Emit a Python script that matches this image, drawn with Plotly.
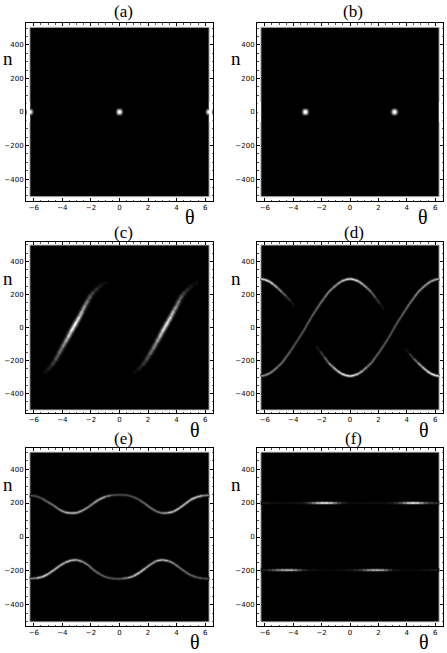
import plotly.graph_objects as go

W, H = 447, 653
THETA_TICKS = [-6, -4, -2, 0, 2, 4, 6]
THETA_LABELS = ["−6", "−4", "−2", "0", "2", "4", "6"]
N_TICKS = [-400, -200, 0, 200, 400]
N_LABELS = ["−400", "−200", "0", "200", "400"]
TITLES = ["(a)", "(b)", "(c)", "(d)", "(e)", "(f)"]

# ---- ridges: (theta, n, brightness) ----
a_spot_theta = [-6.28, 0, 6.28]
a_spot_n = [0, 0, 0]
b_spot_theta = [-3.14, 3.14]
b_spot_n = [0, 0]

c1_theta = [-5.25, -5.0, -4.75, -4.5, -4.25, -4.0, -3.8, -3.6, -3.4, -3.2, -3.0, -2.8, -2.6, -2.4, -2.2, -2.0, -1.8, -1.5, -1.2, -0.9]
c1_n = [-275, -255, -230, -200, -160, -120, -90, -60, -25, 5, 35, 65, 100, 135, 165, 195, 215, 240, 260, 275]
c1_b = [.04, .1, .18, .28, .38, .48, .6, .72, .88, 1.0, .95, .8, .65, .55, .42, .3, .22, .14, .08, .03]
c2_theta = [1.0, 1.3, 1.6, 1.85, 2.1, 2.35, 2.6, 2.8, 3.0, 3.2, 3.4, 3.6, 3.8, 4.0, 4.2, 4.4, 4.6, 4.85, 5.1, 5.5]
c2_n = [-275, -255, -230, -200, -165, -130, -90, -60, -25, 5, 35, 65, 100, 130, 165, 195, 215, 235, 255, 278]
c2_b = [.03, .08, .16, .26, .36, .46, .56, .68, .8, .92, .88, .78, .65, .55, .42, .3, .2, .13, .08, .03]

d1_theta = [-6.28, -6.0, -5.7, -5.4, -5.1, -4.8, -4.5, -4.2, -3.9]
d1_n = [295, 290, 280, 262, 240, 215, 190, 160, 130]
d1_b = [.75, .85, .85, .75, .6, .45, .3, .14, .03]
d2_theta = [-6.28, -6.0, -5.7, -5.4, -5.1, -4.8, -4.5, -4.2, -3.9, -3.6, -3.3, -3.0, -2.7, -2.4, -2.1, -1.8, -1.5, -1.2, -0.9, -0.6, -0.3, 0, 0.3, 0.6, 0.9, 1.2, 1.5, 1.8, 2.1, 2.4]
d2_n = [-295, -290, -280, -262, -240, -215, -180, -145, -105, -65, -25, 20, 65, 105, 145, 180, 215, 240, 262, 280, 290, 295, 290, 280, 262, 240, 215, 180, 145, 110]
d2_b = [.55, .55, .55, .5, .45, .42, .4, .35, .32, .32, .34, .35, .36, .38, .42, .45, .5, .55, .6, .68, .8, .85, .85, .8, .68, .55, .42, .28, .14, .03]
d3_theta = [-2.4, -2.1, -1.8, -1.5, -1.2, -0.9, -0.6, -0.3, 0, 0.3, 0.6, 0.9, 1.2, 1.5, 1.8, 2.1, 2.4, 2.7, 3.0, 3.3, 3.6, 3.9, 4.2, 4.5, 4.8, 5.1, 5.4, 5.7, 6.0, 6.28]
d3_n = [-110, -145, -180, -215, -240, -262, -280, -290, -295, -290, -280, -262, -240, -215, -180, -145, -105, -65, -20, 25, 65, 105, 145, 180, 215, 240, 262, 280, 290, 295]
d3_b = [.03, .14, .3, .48, .65, .75, .85, .9, .9, .85, .75, .62, .5, .42, .38, .35, .34, .32, .32, .34, .36, .38, .42, .46, .5, .55, .6, .65, .65, .65]
d4_theta = [3.9, 4.2, 4.5, 4.8, 5.1, 5.4, 5.7, 6.0, 6.28]
d4_n = [-130, -160, -190, -215, -240, -262, -280, -290, -295]
d4_b = [.03, .14, .32, .52, .7, .8, .9, .92, .85]

e1_theta = [-6.28, -5.8, -5.4, -5.0, -4.6, -4.2, -3.8, -3.4, -3.0, -2.6, -2.2, -1.8, -1.4, -1.0, -0.6, -0.2, 0.2, 0.6, 1.0, 1.4, 1.8, 2.2, 2.6, 3.0, 3.4, 3.8, 4.2, 4.6, 5.0, 5.4, 5.8, 6.28]
e1_n = [245, 240, 225, 205, 185, 160, 145, 140, 142, 155, 175, 200, 222, 237, 245, 248, 248, 245, 235, 218, 195, 170, 150, 140, 142, 150, 170, 195, 220, 235, 243, 247]
e1_b = [.25, .3, .35, .4, .45, .5, .65, .75, .7, .6, .55, .55, .75, .6, .35, .3, .3, .3, .3, .35, .4, .42, .45, .5, .7, .75, .7, .65, .7, .85, .6, .4]
e2_theta = [-6.28, -5.8, -5.4, -5.0, -4.6, -4.2, -3.8, -3.4, -3.0, -2.6, -2.2, -1.8, -1.4, -1.0, -0.6, -0.2, 0.2, 0.6, 1.0, 1.4, 1.8, 2.2, 2.6, 3.0, 3.4, 3.8, 4.2, 4.6, 5.0, 5.4, 5.8, 6.28]
e2_n = [-245, -242, -235, -218, -195, -170, -150, -138, -135, -145, -165, -195, -218, -235, -243, -247, -245, -240, -230, -210, -185, -160, -140, -135, -140, -155, -180, -205, -225, -238, -244, -247]
e2_b = [.4, .6, .85, .75, .65, .65, .7, .75, .65, .55, .45, .42, .4, .35, .32, .3, .35, .55, .75, .8, .7, .55, .65, .75, .6, .5, .45, .4, .38, .35, .3, .28]

f1_theta = [-6.28, -5.6, -5.0, -4.4, -3.8, -3.3, -3.0, -2.7, -2.4, -2.1, -1.8, -1.5, -1.2, -0.9, -0.6, -0.2, 0.5, 1.2, 1.9, 2.6, 3.1, 3.4, 3.7, 4.0, 4.3, 4.6, 4.9, 5.2, 5.5, 5.9, 6.28]
f1_n = [200] * 31
f1_b = [.12, .1, .03, .08, .08, .1, .22, .4, .65, .9, 1.0, .95, .7, .42, .2, .08, .03, .08, .05, .08, .14, .25, .45, .75, .95, 1.0, .8, .5, .3, .2, .18]
f2_theta = [-6.28, -5.8, -5.5, -5.2, -4.9, -4.6, -4.3, -4.0, -3.7, -3.4, -3.0, -2.3, -1.5, -0.9, -0.3, 0.2, 0.6, 0.9, 1.2, 1.5, 1.8, 2.1, 2.4, 2.7, 3.0, 3.5, 4.2, 5.0, 5.6, 6.28]
f2_n = [-195] * 30
f2_b = [.1, .18, .28, .45, .6, .72, .75, .68, .45, .25, .1, .05, .03, .04, .08, .12, .2, .32, .5, .68, .75, .72, .55, .32, .14, .05, .03, .05, .08, .12]

# ---- layout in pixels ----
PANELS = [
    dict(x0=26, x1=213, y0=23, y1=201, title=(123, 12), n=(8, 58), th=(190, 217), ylim=530, blk=505),
    dict(x0=257, x1=443, y0=23, y1=201, title=(353, 12), n=(236, 58), th=(423, 217), ylim=530, blk=505),
    dict(x0=26, x1=213, y0=242, y1=413, title=(123, 232), n=(8, 278), th=(195, 430), ylim=518, blk=500),
    dict(x0=257, x1=443, y0=242, y1=413, title=(354, 232), n=(236, 278), th=(424, 430), ylim=518, blk=500),
    dict(x0=26, x1=213, y0=448, y1=626, title=(123, 438), n=(8, 484), th=(195, 642), ylim=524, blk=500),
    dict(x0=257, x1=443, y0=448, y1=626, title=(353, 438), n=(236, 484), th=(424, 642), ylim=524, blk=500),
]
THETA_LIM = 6.55
THETA_EDGE = 6.28

RIDGES = {
    2: [(c1_theta, c1_n, c1_b), (c2_theta, c2_n, c2_b)],
    3: [(d1_theta, d1_n, d1_b), (d2_theta, d2_n, d2_b), (d3_theta, d3_n, d3_b), (d4_theta, d4_n, d4_b)],
    4: [(e1_theta, e1_n, e1_b), (e2_theta, e2_n, e2_b)],
    5: [(f1_theta, f1_n, f1_b), (f2_theta, f2_n, f2_b)],
}
LAYERS = {
    2: [(7, .14), (5, .4), (3, .75), (1.4, 1.0)],
    3: [(4.2, .14), (2.8, .45), (1.3, 1.0)],
    4: [(4.2, .14), (2.8, .45), (1.3, 1.0)],
    5: [(4, .12), (2.6, .45), (1.3, 1.0)],
}
SPOTS = {0: (a_spot_theta, a_spot_n), 1: (b_spot_theta, b_spot_n)}


def gray(v):
    g = int(round(255 * min(v, 1)))
    return f"rgb({g},{g},{g})"


fig = go.Figure()
shapes, annos = [], []
layout = {}
for i, p in enumerate(PANELS):
    s = "" if i == 0 else str(i + 1)
    ref = s
    tick = dict(ticks="inside", ticklen=3, tickwidth=1, tickcolor="#000",
                showline=True, linecolor="#000", linewidth=1, mirror="ticks",
                showgrid=False, zeroline=False,
                tickfont=dict(family="DejaVu Sans", size=7, color="#000"))
    minor = dict(ticks="inside", ticklen=1.5, tickwidth=1, tickcolor="#555", showgrid=False)
    layout[f"xaxis{s}"] = dict(tick, domain=[p["x0"] / W, p["x1"] / W], range=[-THETA_LIM, THETA_LIM],
                               tickvals=THETA_TICKS, ticktext=THETA_LABELS, anchor=f"y{ref}",
                               minor=dict(minor, dtick=0.5))
    layout[f"yaxis{s}"] = dict(tick, domain=[1 - p["y1"] / H, 1 - p["y0"] / H], range=[-p["ylim"], p["ylim"]],
                               tickvals=N_TICKS, ticktext=N_LABELS, anchor=f"x{ref}",
                               minor=dict(minor, dtick=50))
    shapes.append(dict(type="rect", xref=f"x{ref}", yref=f"y{ref}", layer="below",
                       x0=-THETA_EDGE, x1=THETA_EDGE, y0=-p["blk"], y1=p["blk"],
                       fillcolor="#000", line=dict(color="#c4c4c4", width=1)))
    if i in SPOTS:
        # pale side bands cover whatever of a spot falls outside the image area
        for x0, x1 in [(-THETA_LIM + .04, -THETA_EDGE), (THETA_EDGE, THETA_LIM - .04)]:
            shapes.append(dict(type="rect", xref=f"x{ref}", yref=f"y{ref}", layer="above",
                               x0=x0, x1=x1, y0=-60, y1=60, fillcolor="#fff", line=dict(width=0)))
    annos.append(dict(text=TITLES[i], x=p["title"][0] / W, y=1 - p["title"][1] / H,
                      font=dict(family="Liberation Serif", size=17, color="#000")))
    annos.append(dict(text="n", x=p["n"][0] / W, y=1 - p["n"][1] / H,
                      font=dict(family="Liberation Serif", size=19, color="#000")))
    annos.append(dict(text="θ", x=p["th"][0] / W, y=1 - p["th"][1] / H,
                      font=dict(family="Liberation Serif", size=20, color="#000")))

    if i in SPOTS:
        sx, sy = SPOTS[i]
        for size, b in [(8, .2), (6, .55), (3.5, 1.0)]:
            fig.add_trace(go.Scatter(x=sx, y=sy, mode="markers", xaxis=f"x{ref}", yaxis=f"y{ref}",
                                     marker=dict(size=size, color=gray(b), line=dict(width=0)),
                                     showlegend=False, hoverinfo="skip"))
    else:
        for width, factor in LAYERS[i]:
            for th, n, br in RIDGES[i]:
                for k in range(len(th) - 1):
                    fig.add_trace(go.Scatter(x=th[k:k + 2], y=n[k:k + 2], mode="lines",
                                             xaxis=f"x{ref}", yaxis=f"y{ref}",
                                             line=dict(width=width, color=gray((br[k] + br[k + 1]) / 2 * factor)),
                                             showlegend=False, hoverinfo="skip"))

for a in annos:
    a.update(xref="paper", yref="paper", showarrow=False, xanchor="center", yanchor="middle")

fig.update_layout(width=W, height=H, margin=dict(l=0, r=0, t=0, b=0), paper_bgcolor="#fff",
                  plot_bgcolor="#fff", shapes=shapes, annotations=annos, showlegend=False, **layout)
fig.write_html("out.html", post_script="document.body.style.margin='0';", config={"displayModeBar": False})
